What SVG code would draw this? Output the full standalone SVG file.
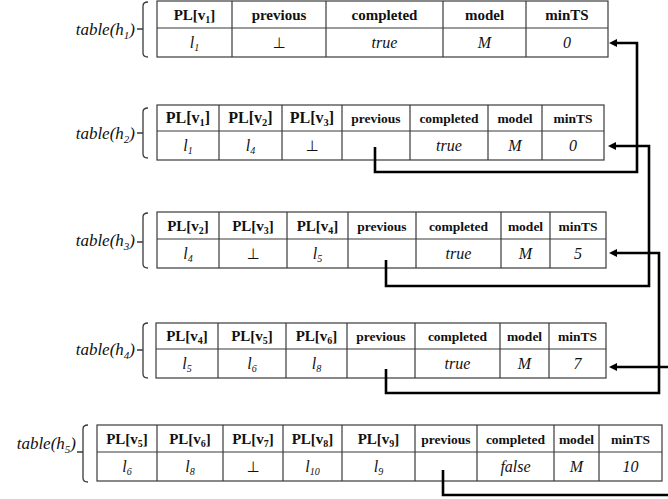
<svg xmlns="http://www.w3.org/2000/svg" width="668" height="499" viewBox="0 0 668 499">
  <style>
    .grid { fill: none; stroke: #3a3a3a; stroke-width: 1.2; }
    .brace { fill: none; stroke: #3a3a3a; stroke-width: 1.3; }
    .hd { font-family: "Liberation Serif", serif; font-weight: bold; font-size: 15px; text-anchor: middle; fill: #111; }
    .hs { font-size: 13.5px; }
    .hl { font-size: 16px; }
    .v { font-family: "Liberation Serif", "DejaVu Serif", serif; font-style: italic; font-size: 16px; text-anchor: middle; fill: #111; }
    .bot { font-family: "DejaVu Sans", sans-serif; font-style: normal; font-size: 15px; }
    .lbl { font-family: "Liberation Serif", serif; font-style: italic; font-size: 17px; text-anchor: end; fill: #111; }
    .conn { fill: none; stroke: #000; stroke-width: 2.6; }
  </style>
  <defs>
    <marker id="arrow" viewBox="0 0 8 8" refX="2" refY="4" markerWidth="8" markerHeight="8" markerUnits="userSpaceOnUse" orient="auto">
      <path d="M0,0 L8,4 L0,8 z" fill="#000"/>
    </marker>
  </defs>

  <!-- table(h1) -->
  <g id="table-h1">
    <text class="lbl" x="135" y="35">table(h<tspan font-size="11" dy="4">1</tspan><tspan dy="-4">)</tspan></text>
    <path class="brace" d="M148,2 Q143,2 143,6 V29 H137 M143,29 V53 Q143,57 148,57"/>
    <rect class="grid" x="157" y="1" width="451" height="56"/>
    <path class="grid" d="M157,28 H608 M232,1 V57 M326,1 V57 M443,1 V57 M526,1 V57"/>
    <text class="hd" x="194.5" y="20">PL[v<tspan font-size="10" dy="3">1</tspan><tspan dy="-3">]</tspan></text>
    <text class="hd" x="279" y="20">previous</text>
    <text class="hd" x="384.5" y="20">completed</text>
    <text class="hd" x="484.5" y="20">model</text>
    <text class="hd" x="567" y="20">minTS</text>
    <text class="v" x="194.5" y="48">l<tspan font-size="10" dy="3">1</tspan></text>
    <text class="v bot" x="279" y="48">⊥</text>
    <text class="v" x="384.5" y="48">true</text>
    <text class="v" x="484.5" y="48">M</text>
    <text class="v" x="567" y="48">0</text>
  </g>

  <!-- table(h2) -->
  <g id="table-h2">
    <text class="lbl" x="135" y="139">table(h<tspan font-size="11" dy="4">2</tspan><tspan dy="-4">)</tspan></text>
    <path class="brace" d="M148,108 Q143,108 143,112 V133 H137 M143,133 V154 Q143,158 148,158"/>
    <rect class="grid" x="157" y="105" width="447" height="55"/>
    <path class="grid" d="M157,131 H604 M219,105 V160 M282,105 V160 M342,105 V160 M410,105 V160 M488,105 V160 M542,105 V160"/>
    <text class="hd hl" x="188" y="123">PL[v<tspan font-size="10.5" dy="3">1</tspan><tspan dy="-3">]</tspan></text>
    <text class="hd hl" x="250.5" y="123">PL[v<tspan font-size="10.5" dy="3">2</tspan><tspan dy="-3">]</tspan></text>
    <text class="hd hl" x="312" y="123">PL[v<tspan font-size="10.5" dy="3">3</tspan><tspan dy="-3">]</tspan></text>
    <text class="hd hs" x="376" y="123">previous</text>
    <text class="hd hs" x="449" y="123">completed</text>
    <text class="hd hs" x="515" y="123">model</text>
    <text class="hd hs" x="573" y="123">minTS</text>
    <text class="v" x="188" y="151">l<tspan font-size="10" dy="3">1</tspan></text>
    <text class="v" x="250.5" y="151">l<tspan font-size="10" dy="3">4</tspan></text>
    <text class="v bot" x="312" y="151">⊥</text>
    <text class="v" x="449" y="151">true</text>
    <text class="v" x="515" y="151">M</text>
    <text class="v" x="573" y="151">0</text>
  </g>

  <!-- table(h3) -->
  <g id="table-h3">
    <text class="lbl" x="135" y="246">table(h<tspan font-size="11" dy="4">3</tspan><tspan dy="-4">)</tspan></text>
    <path class="brace" d="M148,213 Q143,213 143,217 V242 H137 M143,242 V264 Q143,268 148,268"/>
    <rect class="grid" x="157" y="212" width="449" height="56"/>
    <path class="grid" d="M157,239 H606 M219,212 V268 M287,212 V268 M348,212 V268 M416,212 V268 M501,212 V268 M550,212 V268"/>
    <text class="hd" x="188" y="230.5">PL[v<tspan font-size="10" dy="3">2</tspan><tspan dy="-3">]</tspan></text>
    <text class="hd" x="253" y="230.5">PL[v<tspan font-size="10" dy="3">3</tspan><tspan dy="-3">]</tspan></text>
    <text class="hd" x="317.5" y="230.5">PL[v<tspan font-size="10" dy="3">4</tspan><tspan dy="-3">]</tspan></text>
    <text class="hd hs" x="382" y="230.5">previous</text>
    <text class="hd hs" x="458.5" y="230.5">completed</text>
    <text class="hd hs" x="525.5" y="230.5">model</text>
    <text class="hd hs" x="578" y="230.5">minTS</text>
    <text class="v" x="188" y="259">l<tspan font-size="10" dy="3">4</tspan></text>
    <text class="v bot" x="253" y="259">⊥</text>
    <text class="v" x="317.5" y="259">l<tspan font-size="10" dy="3">5</tspan></text>
    <text class="v" x="458.5" y="259">true</text>
    <text class="v" x="525.5" y="259">M</text>
    <text class="v" x="578" y="259">5</text>
  </g>

  <!-- table(h4) -->
  <g id="table-h4">
    <text class="lbl" x="135" y="355">table(h<tspan font-size="11" dy="4">4</tspan><tspan dy="-4">)</tspan></text>
    <path class="brace" d="M148,323 Q143,323 143,327 V350 H137 M143,350 V374 Q143,378 148,378"/>
    <rect class="grid" x="156" y="323" width="450" height="55"/>
    <path class="grid" d="M156,349 H606 M218,323 V378 M286,323 V378 M347,323 V378 M415,323 V378 M500,323 V378 M549,323 V378"/>
    <text class="hd" x="187" y="341">PL[v<tspan font-size="10" dy="3">4</tspan><tspan dy="-3">]</tspan></text>
    <text class="hd" x="252" y="341">PL[v<tspan font-size="10" dy="3">5</tspan><tspan dy="-3">]</tspan></text>
    <text class="hd" x="316.5" y="341">PL[v<tspan font-size="10" dy="3">6</tspan><tspan dy="-3">]</tspan></text>
    <text class="hd hs" x="381" y="341">previous</text>
    <text class="hd hs" x="457.5" y="341">completed</text>
    <text class="hd hs" x="524.5" y="341">model</text>
    <text class="hd hs" x="577.5" y="341">minTS</text>
    <text class="v" x="187" y="369">l<tspan font-size="10" dy="3">5</tspan></text>
    <text class="v" x="252" y="369">l<tspan font-size="10" dy="3">6</tspan></text>
    <text class="v" x="316.5" y="369">l<tspan font-size="10" dy="3">8</tspan></text>
    <text class="v" x="457.5" y="369">true</text>
    <text class="v" x="524.5" y="369">M</text>
    <text class="v" x="577.5" y="369">7</text>
  </g>

  <!-- table(h5) -->
  <g id="table-h5">
    <text class="lbl" x="76" y="449">table(h<tspan font-size="11" dy="4">5</tspan><tspan dy="-4">)</tspan></text>
    <path class="brace" d="M88,425 Q83,425 83,429 V452 H77 M83,452 V478 Q83,482 88,482"/>
    <rect class="grid" x="97" y="425" width="565" height="56"/>
    <path class="grid" d="M97,452 H662 M157,425 V481 M223,425 V481 M283,425 V481 M342,425 V481 M415,425 V481 M477,425 V481 M554,425 V481 M599,425 V481"/>
    <text class="hd" x="127" y="443.5">PL[v<tspan font-size="10" dy="3">5</tspan><tspan dy="-3">]</tspan></text>
    <text class="hd" x="190" y="443.5">PL[v<tspan font-size="10" dy="3">6</tspan><tspan dy="-3">]</tspan></text>
    <text class="hd" x="253" y="443.5">PL[v<tspan font-size="10" dy="3">7</tspan><tspan dy="-3">]</tspan></text>
    <text class="hd" x="312.5" y="443.5">PL[v<tspan font-size="10" dy="3">8</tspan><tspan dy="-3">]</tspan></text>
    <text class="hd" x="378.5" y="443.5">PL[v<tspan font-size="10" dy="3">9</tspan><tspan dy="-3">]</tspan></text>
    <text class="hd hs" x="446" y="443.5">previous</text>
    <text class="hd hs" x="515.5" y="443.5">completed</text>
    <text class="hd hs" x="576.5" y="443.5">model</text>
    <text class="hd hs" x="630.5" y="443.5">minTS</text>
    <text class="v" x="127" y="472">l<tspan font-size="10" dy="3">6</tspan></text>
    <text class="v" x="190" y="472">l<tspan font-size="10" dy="3">8</tspan></text>
    <text class="v bot" x="253" y="472">⊥</text>
    <text class="v" x="312.5" y="472">l<tspan font-size="10" dy="3">10</tspan></text>
    <text class="v" x="378.5" y="472">l<tspan font-size="10" dy="3">9</tspan></text>
    <text class="v" x="515.5" y="472">false</text>
    <text class="v" x="576.5" y="472">M</text>
    <text class="v" x="630.5" y="472">10</text>
  </g>

  <!-- "previous" pointers: each table links back to the one above -->
  <g id="connectors">
    <path class="conn" marker-end="url(#arrow)" d="M375,147 V172 H637 V43 H615"/>
    <path class="conn" marker-end="url(#arrow)" d="M386,260 V286 H649 V146 H614"/>
    <path class="conn" marker-end="url(#arrow)" d="M386,369 V393 H659 V253 H615"/>
    <path class="conn" marker-end="url(#arrow)" d="M443,470 V495 H674 V367 H615"/>
  </g>
</svg>
